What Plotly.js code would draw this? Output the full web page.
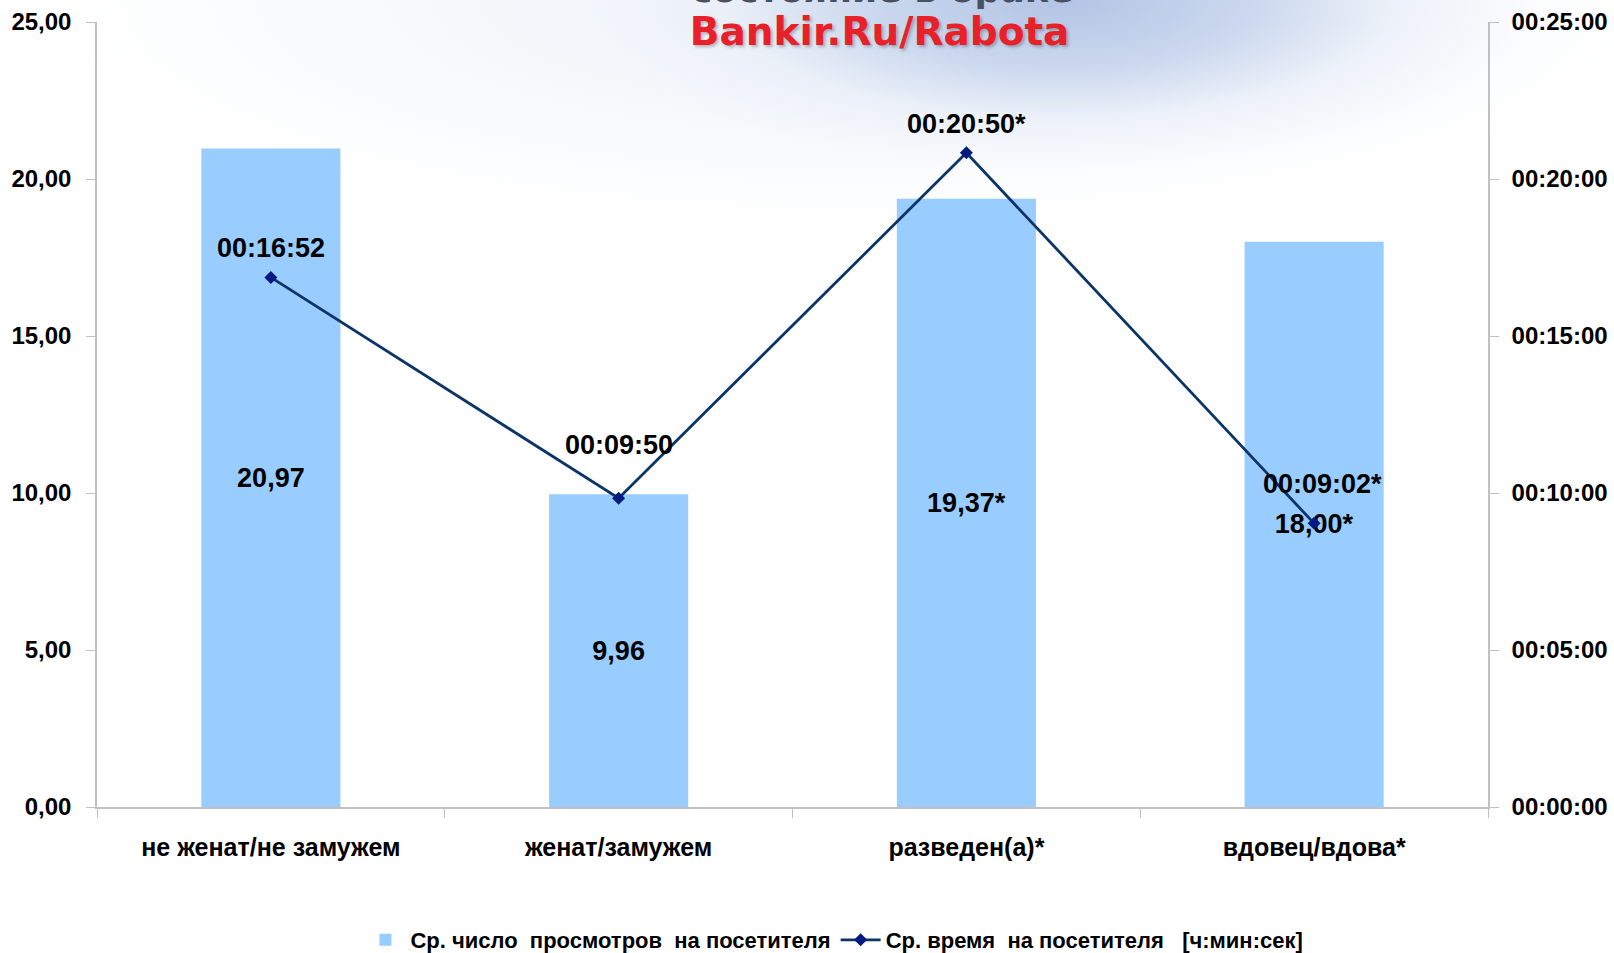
<!DOCTYPE html>
<html>
<head>
<meta charset="utf-8">
<script src="https://cdn.plot.ly/plotly-3.0.1.min.js"></script>
<style>
  html, body { margin: 0; padding: 0; }
  body {
    width: 1614px; height: 953px; overflow: hidden;
    background:
      radial-gradient(ellipse 480px 170px at 1060px 0px, #b2c4e5 0%, #cbd8ee 40%, rgba(232,238,247,0.7) 70%, rgba(255,255,255,0) 100%),
      radial-gradient(ellipse 820px 230px at 860px 0px, #eef2f9 0%, #f6f8fc 50%, rgba(255,255,255,0) 100%),
      #ffffff;
  }
  #chart { width: 1614px; height: 953px; }
</style>
</head>
<body>
<div id="chart"></div>
<script>
// ---- data ----
const categories = ["не женат/не замужем", "женат/замужем", "разведен(а)*", "вдовец/вдова*"];
const avgViews = [20.97, 9.96, 19.37, 18.00];
const viewLabels = ["20,97", "9,96", "19,37*", "18,00*"];
const avgTimeSec = [1012, 590, 1250, 542];
const timeLabels = ["00:16:52", "00:09:50", "00:20:50*", "00:09:02*"];
const leftTickVals = [0, 5, 10, 15, 20, 25];
const rightTickVals = [0, 300, 600, 900, 1200, 1500];
const rightTickText = ["00:00:00", "00:05:00", "00:10:00", "00:15:00", "00:20:00", "00:25:00"];
const seriesNames = ["Ср. число  просмотров  на посетителя", "Ср. время  на посетителя   [ч:мин:сек]"];

// ---- styling ----
const tickFont = {family: "Liberation Sans, Arial, sans-serif", size: 24, color: "#000", weight: "bold"};
const dataFont = {family: "Liberation Sans, Arial, sans-serif", size: 27, color: "#000", weight: "bold"};
const labelShift = [29, 53, 29, 39];

const bars = {
  type: "bar",
  x: categories,
  y: avgViews,
  name: seriesNames[0],
  width: 0.4,
  marker: {color: "#99ccff"},
  text: viewLabels,
  textposition: "inside",
  insidetextanchor: "middle",
  textfont: dataFont,
  hoverinfo: "x+y"
};

const line = {
  type: "scatter",
  mode: "lines+markers",
  x: categories,
  y: avgTimeSec,
  yaxis: "y2",
  name: seriesNames[1],
  line: {color: "#0b3468", width: 2.8},
  marker: {symbol: "diamond", size: 10, color: "#001a80", line: {color: "#001a80", width: 0}}
};

const annotations = categories.map((c, i) => ({
  x: c, y: avgTimeSec[i], xref: "x", yref: "y2",
  text: timeLabels[i], showarrow: false,
  yshift: labelShift[i], xshift: i === 3 ? 8 : 0,
  font: dataFont
}));

annotations.push({
  xref: "paper", yref: "paper", x: 0.565, y: 1.0127, yanchor: "bottom",
  text: "состояние в браке", showarrow: false,
  font: {family: "DejaVu Sans, Verdana, sans-serif", size: 36, color: "#4a5060", weight: "bold"}
});

const layout = {
  width: 1614, height: 953,
  margin: {l: 97, r: 126, t: 22, b: 146},
  paper_bgcolor: "rgba(0,0,0,0)",
  plot_bgcolor: "rgba(0,0,0,0)",
  separators: ", ",
  showlegend: true,
  title: {
    text: "Bankir.Ru/Rabota",
    x: 0.545, xanchor: "center",
    y: 0.967, yanchor: "middle",
    font: {family: "DejaVu Sans, Verdana, sans-serif", size: 39, color: "#e8202a", weight: "bold", shadow: "2px 2px 3px rgba(0,0,0,0.25)"}
  },
  xaxis: {
    type: "category",
    automargin: false,
    showline: true, linecolor: "#c0c0c0", linewidth: 1.5,
    ticks: "outside", ticklen: 9, tickcolor: "#c0c0c0", tickson: "boundaries",
    showgrid: false, zeroline: false,
    tickfont: {family: "Liberation Sans, Arial, sans-serif", size: 25, color: "#000", weight: "bold"},
    ticklabelstandoff: 17,
    fixedrange: true
  },
  yaxis: {
    automargin: false,
    range: [0, 25],
    tickvals: leftTickVals,
    tickformat: ".2f",
    showline: true, linecolor: "#c0c0c0", linewidth: 1.5,
    ticks: "outside", ticklen: 9, tickcolor: "#c0c0c0",
    showgrid: false, zeroline: false,
    tickfont: tickFont,
    ticklabelstandoff: 10,
    fixedrange: true
  },
  yaxis2: {
    automargin: false,
    overlaying: "y", side: "right",
    range: [0, 1500],
    tickvals: rightTickVals,
    ticktext: rightTickText,
    showline: true, linecolor: "#c0c0c0", linewidth: 1.5,
    ticks: "outside", ticklen: 9, tickcolor: "#c0c0c0",
    showgrid: false, zeroline: false,
    tickfont: tickFont,
    ticklabelstandoff: 8,
    fixedrange: true
  },
  legend: {
    orientation: "h",
    xref: "container", yref: "container",
    x: 0.517, xanchor: "center",
    y: 0.0136, yanchor: "middle",
    font: {family: "Liberation Sans Narrow, Arial Narrow, Liberation Sans, sans-serif", size: 22, color: "#000", weight: "bold"},
    bgcolor: "rgba(0,0,0,0)",
    itemwidth: 40,
    tracegroupgap: 0
  },
  annotations: annotations
};

Plotly.newPlot("chart", [bars, line], layout, {displayModeBar: false});
</script>
</body>
</html>
